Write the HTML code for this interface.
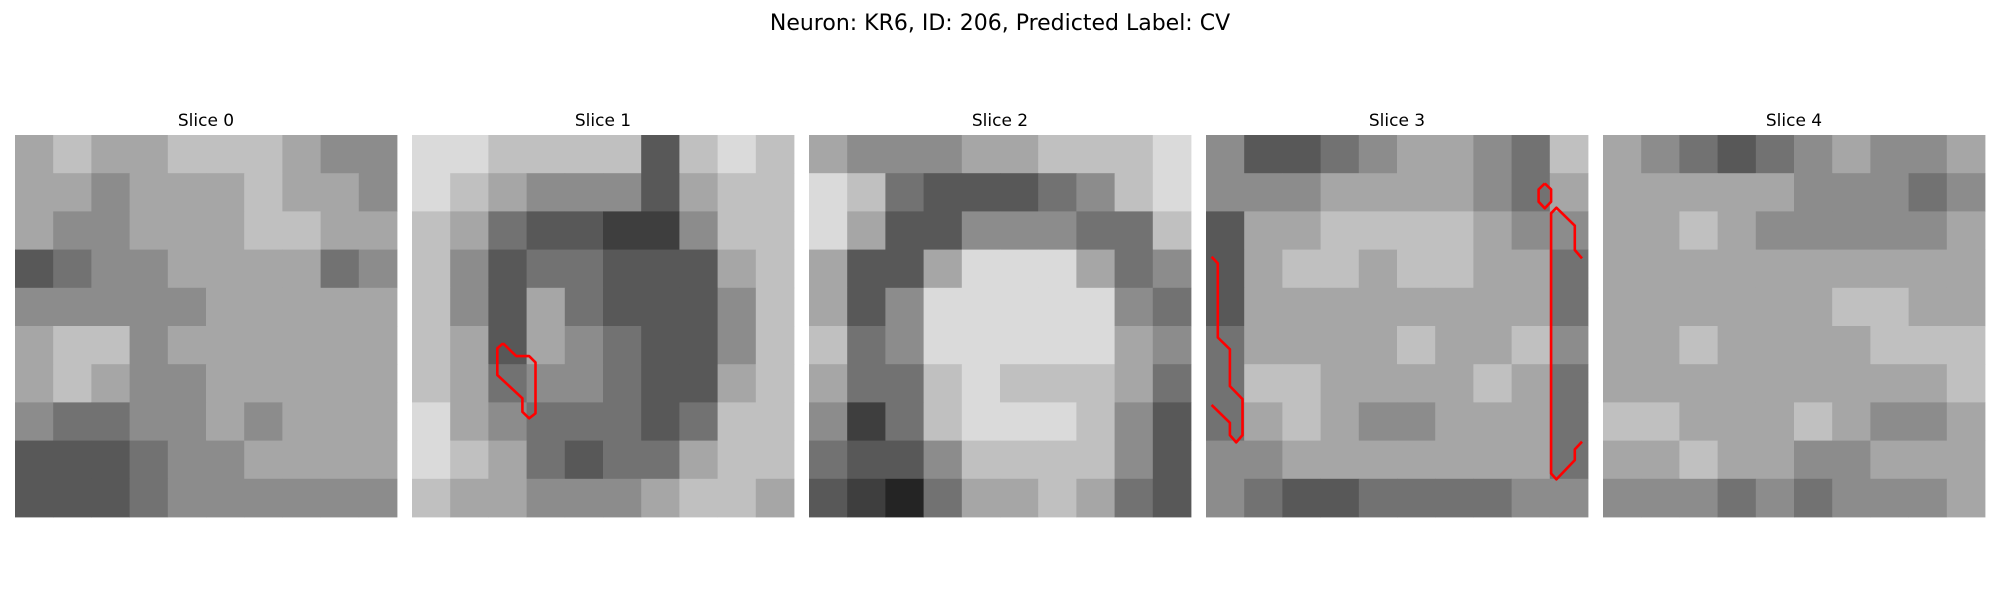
<!DOCTYPE html>
<html>
<head>
<meta charset="utf-8">
<style>
  html,body{margin:0;padding:0;background:#fff;}
  body{width:2000px;height:600px;overflow:hidden;font-family:"Liberation Sans","DejaVu Sans",sans-serif;}
  svg text{font-family:"DejaVu Sans","Liberation Sans",sans-serif;}
</style>
</head>
<body>
<svg id="fig" width="2000" height="600" viewBox="0 0 2000 600">
  <text x="1000" y="30" text-anchor="middle" font-size="22" fill="#000">Neuron: KR6, ID: 206, Predicted Label: CV</text>
  <g id="panels"></g>
</svg>
<script>
// Slice titles
const sliceTitles = ["Slice 0", "Slice 1", "Slice 2", "Slice 3", "Slice 4"];
// Coarse intensity blocks (10x10 per slice, 0=black .. 9=white), rows top to bottom
const slice0 = ["6766777655","6656667665","6556667766","3455666645","5555566666","6775666666","6765566666","5445565666","3334556666","3334555555"];
const slice1 = ["8877773787","8765553677","7643322577","7534433367","7536433357","7636543357","7645543367","8654443477","8764344677","7665556776"];
const slice2 = ["6555667778","8743334578","8633555447","6336888645","6358888854","7458888865","6447877764","5247888753","4335777753","3214667643"];
const slice3 = ["5334566547","5556666546","3667777655","3677677664","3666666664","4666676675","4776666764","4676556664","5566666664","5433444455"];
const slice4 = ["6543456556","6666655545","6676555556","6666666666","6666667766","6676666777","6666666667","7766676556","6676655666","5554545556"];
const sliceData = [slice0, slice1, slice2, slice3, slice4];
// Contours in image-cell units (x, y), per slice
const contourSlice1A = [[7.15,16.36],[8.18,17.36],[9.2,17.36],[9.7,17.86],[9.7,21.86],[9.2,22.25],[8.67,21.74],[8.67,20.68],[6.7,18.85],[6.7,16.76],[7.15,16.36]];
const contourSlice3A = [[0.44,9.56],[0.93,10.08],[0.93,15.9],[1.88,16.83],[1.88,19.72],[2.87,20.74],[2.87,23.57],[2.37,24.14],[1.88,23.57],[1.88,22.6],[0.44,21.2]];
const contourSlice3B = [[26.61,3.8],[27.1,4.27],[27.1,5.24],[26.61,5.76],[26.12,5.24],[26.12,4.27],[26.61,3.8]];
const contourSlice3C = [[29.53,9.69],[28.96,9.03],[28.96,7.12],[27.52,5.71],[27.1,6.15],[27.1,26.58],[27.52,27.05],[28.96,25.53],[28.96,24.69],[29.53,24.09]];
const contours = [[], [contourSlice1A], [], [contourSlice3A, contourSlice3B, contourSlice3C], []];

const NS = "http://www.w3.org/2000/svg";
const panelX0 = 15, panelStep = 397, panelY0 = 135, panelSize = 382, nCells = 30;
function xScale(panel, cx){ return panelX0 + panel*panelStep + cx/nCells*panelSize; }
function yScale(cy){ return panelY0 + cy/nCells*panelSize; }
function grayOf(v){ const g = Math.round(10 + v*26); return "rgb("+g+","+g+","+g+")"; }

const root = document.getElementById("panels");
sliceData.forEach((rows, p) => {
  const g = document.createElementNS(NS, "g");
  
  
  root.appendChild(g);
  const t = document.createElementNS(NS, "text");
  t.setAttribute("x", xScale(p, nCells/2));
  t.setAttribute("y", 126);
  t.setAttribute("text-anchor", "middle");
  t.setAttribute("font-size", "17");
  t.textContent = sliceTitles[p];
  
  
  g.appendChild(t);
  const nb = rows.length;
  const bs = nCells / nb;
  rows.forEach((row, r) => {
    for (let c = 0; c < row.length; c++) {
      const v = +row[c];
      const rect = document.createElementNS(NS, "rect");
      const x1 = xScale(p, c*bs), x2 = xScale(p, (c+1)*bs);
      const y1 = yScale(r*bs), y2 = yScale((r+1)*bs);
      rect.setAttribute("x", x1.toFixed(2));
      rect.setAttribute("y", y1.toFixed(2));
      rect.setAttribute("width", (x2-x1+0.4).toFixed(2));
      rect.setAttribute("height", (y2-y1+0.4).toFixed(2));
      rect.setAttribute("fill", grayOf(v));
      
      
      g.appendChild(rect);
    }
  });
  contours[p].forEach((pts, k) => {
    const pl = document.createElementNS(NS, "polyline");
    pl.setAttribute("points", pts.map(q => xScale(p, q[0]).toFixed(1) + "," + yScale(q[1]).toFixed(1)).join(" "));
    pl.setAttribute("fill", "none");
    pl.setAttribute("stroke", "#ff0000");
    pl.setAttribute("stroke-width", "2.6");
    pl.setAttribute("stroke-linejoin", "round");
    
    
    g.appendChild(pl);
  });
});
</script>
</body>
</html>
